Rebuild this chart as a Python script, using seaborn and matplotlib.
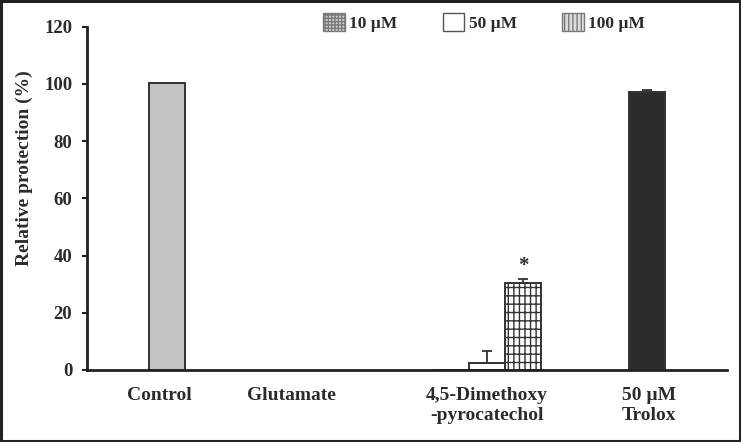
import pandas as pd
import matplotlib.pyplot as plt
import matplotlib.patches as mpatches
import seaborn as sns

# Values (relative protection, %)
groups = ['Control', 'Glutamate', '4,5-Dimethoxy\n-pyrocatechol', '50 \u00b5M\nTrolox']
concs = ['10 \u00b5M', '50 \u00b5M', '100 \u00b5M']
bar_group = ['Control', '4,5-Dimethoxy\n-pyrocatechol', '4,5-Dimethoxy\n-pyrocatechol',
             '4,5-Dimethoxy\n-pyrocatechol', '50 \u00b5M\nTrolox']
bar_conc = ['50 \u00b5M', '10 \u00b5M', '50 \u00b5M', '100 \u00b5M', '50 \u00b5M']
bar_value = [100.3, 0.0, 2.5, 30.3, 97.0]
bar_err = [0.0, 0.0, 4.2, 1.5, 0.7]
signif = [False, False, False, True, False]
yticks = [0, 20, 40, 60, 80, 100, 120]

sns.set_theme(style="white")
plt.rcParams['font.family'] = ['Liberation Serif', 'DejaVu Serif']
plt.rcParams['font.weight'] = 'bold'
plt.rcParams['hatch.linewidth'] = 1.0
text_col = '#2b2b2b'

df = pd.DataFrame({'group': bar_group, 'conc': bar_conc,
                   'value': bar_value, 'err': bar_err, 'sig': signif})

fig = plt.figure(figsize=(7.41, 4.42), dpi=100)
ax = fig.add_axes([0.1174, 0.163, 0.8637, 0.7766])

sns.barplot(data=df, x='group', y='value', hue='conc', order=groups,
            hue_order=concs, width=0.68, gap=0, errorbar=None,
            legend=False, ax=ax)

# styling of each bar depends on the group and the concentration
styles = {
    (0, 1): dict(fc='#c4c4c4', hatch=None),
    (3, 1): dict(fc='#2c2c2c', hatch=None),
    (2, 0): dict(fc='#cfcfcf', hatch='+++++'),
    (2, 1): dict(fc='white', hatch=None),
    (2, 2): dict(fc='white', hatch='++|'),
}
slot_w = 0.68 / 3
for p in ax.patches:
    cx = p.get_x() + p.get_width() / 2
    cat = int(round(cx))
    slot = int(round((cx - cat) / slot_w)) + 1
    st = styles.get((cat, slot), dict(fc='white', hatch=None))
    p.set_facecolor(st['fc'])
    p.set_edgecolor('#333333')
    p.set_linewidth(1.4)
    if st['hatch']:
        p.set_hatch(st['hatch'])
    # matching data row for error bars / significance
    row = df[(df['group'] == groups[cat]) & (df['conc'] == concs[slot])]
    if len(row) and row['err'].iloc[0] > 0:
        top = p.get_height()
        ax.errorbar(cx, top, yerr=[[0], [row['err'].iloc[0]]], fmt='none',
                    ecolor='#333333', elinewidth=1.3, capsize=3.5, capthick=1.3)
    if len(row) and row['sig'].iloc[0]:
        ax.annotate('*', (cx, p.get_height() + row['err'].iloc[0]),
                    xytext=(0, 2), textcoords='offset points', ha='center',
                    va='bottom', fontsize=15, fontweight='bold', color=text_col)

ax.set_xlim(-0.5, 3.5)
ax.set_ylim(0, 120)
ax.set_yticks(yticks)
ax.set_yticklabels([str(t) for t in yticks], fontsize=13.5, fontweight='bold', color=text_col)
ax.set_xticks([-0.05, 0.78, 2.0, 3.01])
ax.set_xticklabels(groups, fontsize=14, fontweight='bold', color=text_col, linespacing=1.25)
ax.tick_params(axis='x', length=0, pad=12)
ax.tick_params(axis='y', direction='out', length=3.6, width=1.5, color='#222222', pad=7, left=True)
ax.set_xlabel('')
ax.set_ylabel('Relative protection (%)', fontsize=14, fontweight='bold', color=text_col)
ax.yaxis.set_label_coords(-0.085, 0.588)

sns.despine(ax=ax)
for s in ['left', 'bottom']:
    ax.spines[s].set_linewidth(2)
    ax.spines[s].set_color('#222222')
ax.grid(False)

# legend with hand-made swatches like the original
handles = [
    mpatches.Patch(facecolor='#cfcfcf', edgecolor='#7a7a7a', hatch='+++++', label=concs[0]),
    mpatches.Patch(facecolor='white', edgecolor='#555555', label=concs[1]),
    mpatches.Patch(facecolor='#dcdcdc', edgecolor='#7a7a7a', hatch='||||', label=concs[2]),
]
leg = fig.legend(handles=handles, loc='center left', bbox_to_anchor=(0.436, 0.95),
                 ncol=3, frameon=False, fontsize=12.5, handlelength=1.25,
                 handleheight=1.25, handletextpad=0.25, columnspacing=2.6,
                 borderaxespad=0, borderpad=0)
for t in leg.get_texts():
    t.set_fontweight('bold')
    t.set_color(text_col)

# dark frame around the whole picture
fig.patches.append(mpatches.Rectangle((0.002, 0.003), 0.996, 0.994, transform=fig.transFigure,
                                      fill=False, edgecolor='#222222', linewidth=2.2))

plt.savefig('out.png', dpi=100)
plt.close()
